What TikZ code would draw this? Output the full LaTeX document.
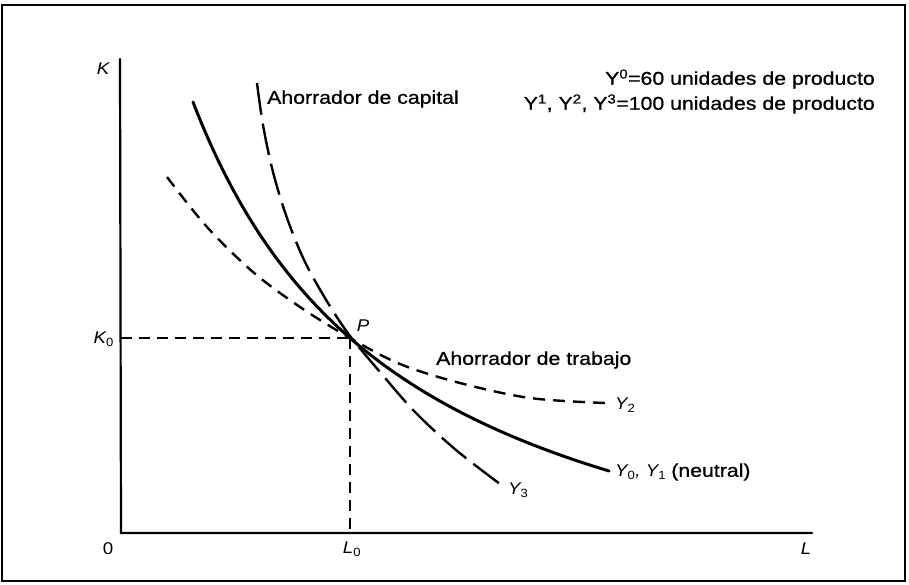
\documentclass[tikz,border=0pt]{standalone}
\usepackage{fontspec}
\setmainfont{Liberation Sans}
\newfontfamily\txtfont[FakeStretch=1.15,FakeBold=0.8]{Liberation Sans}
\newfontfamily\labfont[FakeStretch=1.1]{Liberation Sans}
\begin{document}
\begin{tikzpicture}[x=1pt,y=-1pt,
  axis/.style={line width=2.2pt, line cap=round},
  neutral/.style={line width=3pt, line cap=round},
  capsave/.style={line width=2.4pt, dash pattern=on 32pt off 9pt},
  labsave/.style={line width=2.4pt, dash pattern=on 12pt off 8pt},
  guide/.style={line width=1.8pt, dash pattern=on 11pt off 7pt},
  txt/.style={inner sep=0pt, font=\txtfont\fontsize{18.5}{22}\selectfont},
  lab/.style={inner sep=0pt, font=\labfont\itshape\fontsize{17}{20}\selectfont},
  num/.style={inner sep=0pt, font=\labfont\fontsize{17}{20}\selectfont}]
\useasboundingbox (0,0) rectangle (909,584);
\fill[white] (0,0) rectangle (909,584);
\draw[line width=2pt] (1.7,4.8) rectangle (905,581);

% axes
\coordinate (Ktop) at (120,59);
\coordinate (O) at (121,533);
\coordinate (Lend) at (812,533);
\coordinate (P) at (350,338);
\coordinate (K0) at (121,338);
\coordinate (L0) at (350,533);
\draw[axis] (Ktop) -- (O) -- (Lend);

% guide lines
\draw[guide] (K0) -- (P);
\draw[guide] (P) -- (L0);

% neutral curve Y0, Y1
\draw[neutral] plot[domain=193:609, samples=90] (\x, {662.4 - 1209.34/((\x+22.8)/100)});

% capital-saving curve Y3
\draw[capsave] plot[smooth, tension=0.55] coordinates {(257,83) (263,125) (273,172) (287,218) (305,262) (328,303) (350,336) (380,372) (415,412) (456,450) (500,484)};

% labour-saving curve Y2
\draw[labsave] plot[smooth, tension=0.55] coordinates {(167,177) (207,227) (253,272) (300,307) (350,338) (400,364) (460,383) (530,398) (605,403)};

% labels
\node[lab] (Klab) at (103,69) {K};
\node[lab, anchor=east] (K0lab) at (114,339) {K\textsubscript{\upshape 0}};
\node[num] (Olab) at (108,549) {0};
\node[lab] (L0lab) at (352,549) {L\textsubscript{\upshape 0}};
\node[lab] (Llab) at (806,549) {L};
\node[lab] (Plab) at (363,326) {P};
\node[txt, anchor=west] (capital) at (267,99) {Ahorrador de capital};
\node[txt, anchor=west] (trabajo) at (436,360) {Ahorrador de trabajo};
\node[lab, anchor=west] (Y2lab) at (615,405) {Y\textsubscript{\upshape 2}};
\node[anchor=west, inner sep=0pt] (Y01lab) at (615,472) {\labfont\itshape\fontsize{17}{20}\selectfont Y\textsubscript{\upshape 0}, Y\textsubscript{\upshape 1} \txtfont\upshape\fontsize{18.5}{22}\selectfont(neutral)};
\node[lab, anchor=west] (Y3lab) at (508,490) {Y\textsubscript{\upshape 3}};
\node[txt, anchor=east] (line1) at (875,79) {Y\textsuperscript{0}=60 unidades de producto};
\node[txt, anchor=east] (line2) at (875,104) {Y\textsuperscript{1}, Y\textsuperscript{2}, Y\textsuperscript{3}=100 unidades de producto};
\end{tikzpicture}
\end{document}
